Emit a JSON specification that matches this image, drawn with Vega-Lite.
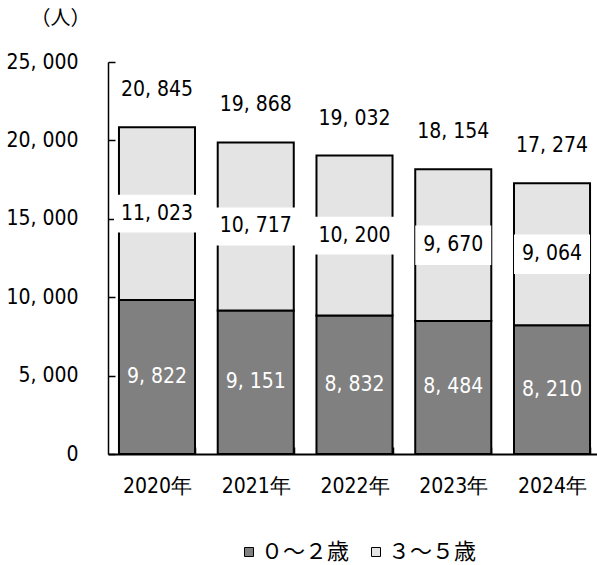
{
  "$schema": "https://vega.github.io/schema/vega-lite/v6.json",
  "width": 489,
  "height": 392,
  "autosize": {"type": "none"},
  "padding": {"left": 108, "top": 62, "right": 0, "bottom": 111},
  "background": "white",
  "config": {
    "view": {"stroke": null},
    "font": "DejaVu Sans Condensed, Liberation Sans, sans-serif",
    "text": {"font": "DejaVu Sans Condensed, Liberation Sans, sans-serif", "fontSize": 21}
  },
  "data": {
    "values": [
      {"year": "2020年", "group": "０～２歳", "value": 9822},
      {"year": "2020年", "group": "３～５歳", "value": 11023},
      {"year": "2021年", "group": "０～２歳", "value": 9151},
      {"year": "2021年", "group": "３～５歳", "value": 10717},
      {"year": "2022年", "group": "０～２歳", "value": 8832},
      {"year": "2022年", "group": "３～５歳", "value": 10200},
      {"year": "2023年", "group": "０～２歳", "value": 8484},
      {"year": "2023年", "group": "３～５歳", "value": 9670},
      {"year": "2024年", "group": "０～２歳", "value": 8210},
      {"year": "2024年", "group": "３～５歳", "value": 9064}
    ]
  },
  "transform": [
    {"window": [{"op": "sum", "field": "value", "as": "cum"}], "groupby": ["year"], "sort": [{"field": "group"}], "frame": [null, 0]},
    {"joinaggregate": [{"op": "sum", "field": "value", "as": "total"}], "groupby": ["year"]},
    {"calculate": "datum.cum - datum.value", "as": "start"},
    {"calculate": "(datum.cum + datum.start) / 2", "as": "mid"},
    {"calculate": "replace(format(datum.value, ','), ',', ', ')", "as": "label"},
    {"calculate": "replace(format(datum.total, ','), ',', ', ')", "as": "totalLabel"}
  ],
  "encoding": {
    "x": {
      "field": "year",
      "type": "nominal",
      "title": null,
      "scale": {"range": [0, 493], "paddingInner": 0.23, "paddingOuter": 0.111},
      "axis": {
        "labelAngle": 0,
        "tickBand": "extent",
        "tickSize": -7,
        "tickColor": "black",
        "tickWidth": 1.5,
        "domainColor": "black",
        "domainWidth": 2,
        "labelFont": "DejaVu Sans Condensed, Liberation Sans, sans-serif",
        "labelFontSize": 21,
        "labelColor": "black",
        "labelPadding": 28
      }
    }
  },
  "layer": [
    {
      "mark": {"type": "bar", "stroke": "black", "strokeWidth": 2},
      "encoding": {
        "y": {
          "field": "start",
          "type": "quantitative",
          "title": "（人）",
          "scale": {"domain": [0, 25000], "nice": false, "zero": true, "padding": 0},
          "axis": {
            "values": [0, 5000, 10000, 15000, 20000, 25000],
            "labelExpr": "replace(datum.label, ',', ', ')",
            "grid": false,
            "tickSize": -7,
            "tickColor": "black",
            "tickWidth": 1.5,
            "domainColor": "black",
            "domainWidth": 1.5,
            "labelFont": "DejaVu Sans Condensed, Liberation Sans, sans-serif",
            "labelFontSize": 21,
            "labelColor": "black",
            "labelPadding": 37,
            "titleAngle": 0,
            "titleX": -48,
            "titleY": -44,
            "titleAlign": "center",
            "titleBaseline": "middle",
            "titleFont": "Noto Sans CJK JP",
            "titleFontSize": 20,
            "titleFontWeight": "normal",
            "titleColor": "black"
          }
        },
        "y2": {"field": "cum"},
        "color": {
          "field": "group",
          "type": "nominal",
          "scale": {"domain": ["０～２歳", "３～５歳"], "range": ["#808080", "#e4e4e4"]},
          "legend": {
            "title": null,
            "orient": "none",
            "legendX": 130,
            "legendY": 479,
            "direction": "horizontal",
            "symbolType": "square",
            "symbolSize": 81,
            "symbolStrokeColor": "black",
            "symbolStrokeWidth": 1,
            "symbolOpacity": 1,
            "labelFont": "Noto Sans CJK JP",
            "labelFontSize": 22,
            "labelColor": "black",
            "labelOffset": 1,
            "columnPadding": 15
          }
        }
      }
    },
    {
      "transform": [{"filter": "datum.group === '０～２歳'"}],
      "mark": {"type": "text", "color": "white", "fontSize": 21},
      "encoding": {
        "y": {"field": "mid", "type": "quantitative", "title": "（人）", "scale": {"domain": [0, 25000], "nice": false, "zero": true, "padding": 0}},
        "text": {"field": "label"}
      }
    },
    {
      "transform": [{"filter": "datum.group === '３～５歳'"}],
      "mark": {"type": "point", "filled": true, "color": "white", "opacity": 1, "strokeWidth": 0},
      "encoding": {
        "y": {"field": "mid", "type": "quantitative", "title": "（人）", "scale": {"domain": [0, 25000], "nice": false, "zero": true, "padding": 0}},
        "size": {"condition": {"test": "datum.value >= 10000", "value": 7396}, "value": 5776},
        "shape": {"condition": {"test": "datum.value >= 10000", "value": "M-1,-0.44H1V0.44H-1Z"}, "value": "M-1,-0.52H1V0.52H-1Z"}
      }
    },
    {
      "transform": [{"filter": "datum.group === '３～５歳'"}],
      "mark": {"type": "text", "color": "black", "fontSize": 21},
      "encoding": {
        "y": {"field": "mid", "type": "quantitative", "title": "（人）", "scale": {"domain": [0, 25000], "nice": false, "zero": true, "padding": 0}},
        "text": {"field": "label"}
      }
    },
    {
      "transform": [{"filter": "datum.group === '３～５歳'"}],
      "mark": {"type": "text", "color": "black", "fontSize": 21, "dy": -37},
      "encoding": {
        "y": {"field": "total", "type": "quantitative", "title": "（人）", "scale": {"domain": [0, 25000], "nice": false, "zero": true, "padding": 0}},
        "text": {"field": "totalLabel"}
      }
    }
  ]
}
